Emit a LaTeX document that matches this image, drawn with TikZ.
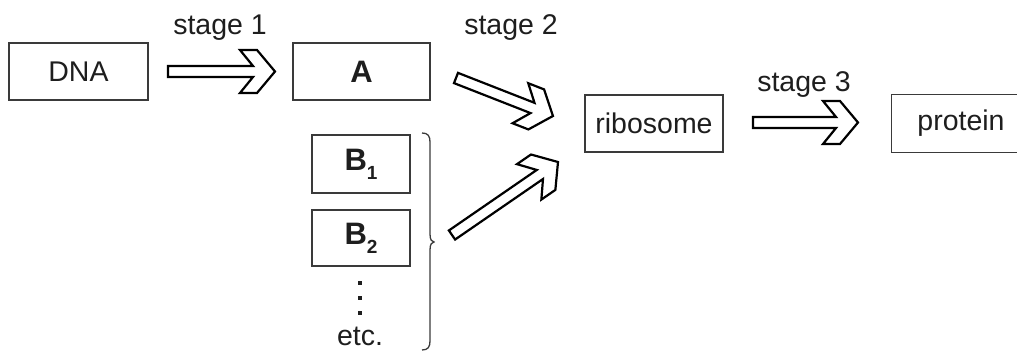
\documentclass[tikz,border=0pt]{standalone}
\usepackage{fontspec}
\setmainfont{Liberation Sans}
\usetikzlibrary{calc}
\definecolor{boxgray}{HTML}{3A3A3A}
\definecolor{txt}{HTML}{1E1E1E}
\tikzset{
  box/.style={draw=boxgray, line width=1.3pt, inner sep=0pt, text=txt,
    font=\fontsize{28.5}{30}\selectfont},
  openbox/.style={inner sep=0pt, text=txt, font=\fontsize{28.5}{30}\selectfont},
  edge/.style={draw=boxgray, line width=1.3pt},
  lbl/.style={inner sep=0pt, text=txt, anchor=base, font=\fontsize{28.5}{30}\selectfont},
  bld/.style={font=\fontsize{31}{33}\selectfont\bfseries},
  fat/.style={draw=black, line width=2.2pt, line join=miter, fill=white},
  dotsq/.style={fill=txt, minimum size=3.5pt, inner sep=0pt},
  bracestyle/.style={draw=boxgray, line width=1.3pt}
}
\newcommand{\fatarrow}[2]{%
  \path[fat] let \p1=($(#2)-(#1)$), \n1={atan2(\y1,\x1)}, \n2={veclen(\x1,\y1)} in
    [shift={(#1)}, rotate=\n1]
    (0,5.5) -- (\n2-22,5.5) -- (\n2-35,21.5) -- (\n2-18,21.5) -- (\n2,0)
    -- (\n2-18,-21.5) -- (\n2-35,-21.5) -- (\n2-22,-5.5) -- (0,-5.5) -- cycle;}
\begin{document}
\begin{tikzpicture}[x=1pt,y=-1pt]
\useasboundingbox (0,0) rectangle (1017,352);
% boxes
\node[box, minimum width=139pt, minimum height=57pt] (dna) at (78.5,71.5) {DNA};
\node[box, bld, minimum width=137pt, minimum height=57pt] (a) at (361.5,71.5) {A};
\node[box, bld, minimum width=98pt, minimum height=58pt] (b1) at (361,164) {B\raisebox{-0.28em}{\fontsize{19}{20}\selectfont 1}};
\node[box, bld, minimum width=98pt, minimum height=56pt] (b2) at (361,238) {B\raisebox{-0.28em}{\fontsize{19}{20}\selectfont 2}};
\node[box, minimum width=138pt, minimum height=57pt] (rib) at (654,123.5) {ribosome};
\node[openbox, minimum width=138pt, minimum height=57pt] (prot) at (961,123.5) {protein};
\draw[edge] ([xshift=20pt]prot.north east) -- (prot.north west) -- (prot.south west) -- ([xshift=20pt]prot.south east);
% labels
\node[lbl] (s1) at (220,35) {stage 1};
\node[lbl] (s2) at (511,35) {stage 2};
\node[lbl] (s3) at (804,92) {stage 3};
\node[lbl] (etc) at (360,346) {etc.};
% dots
\node[dotsq] (d1) at (360,283) {};
\node[dotsq] (d2) at (360,298) {};
\node[dotsq] (d3) at (360,313) {};
% brace
\coordinate (brtop) at (422,133);
\coordinate (brtip) at (434,242);
\coordinate (brbot) at (422,350);
\draw[bracestyle] (brtop) .. controls (428,133) and (430,136) .. (430,142)
  -- (430,234) .. controls (430,240) and (432,242) .. (brtip)
  .. controls (432,242) and (430,244) .. (430,250)
  -- (430,341) .. controls (430,347) and (428,350) .. (brbot);
% arrow end points
\coordinate (a1s) at (168,71.5);  \coordinate (a1e) at (275,71.5);
\coordinate (a2s) at (456,78);    \coordinate (a2e) at (553,116);
\coordinate (a4s) at (452,235);   \coordinate (a4e) at (558,162);
\coordinate (a3s) at (753,122.5); \coordinate (a3e) at (858,122.5);
\fatarrow{a1s}{a1e}
\fatarrow{a2s}{a2e}
\fatarrow{a4s}{a4e}
\fatarrow{a3s}{a3e}
\end{tikzpicture}
\end{document}
